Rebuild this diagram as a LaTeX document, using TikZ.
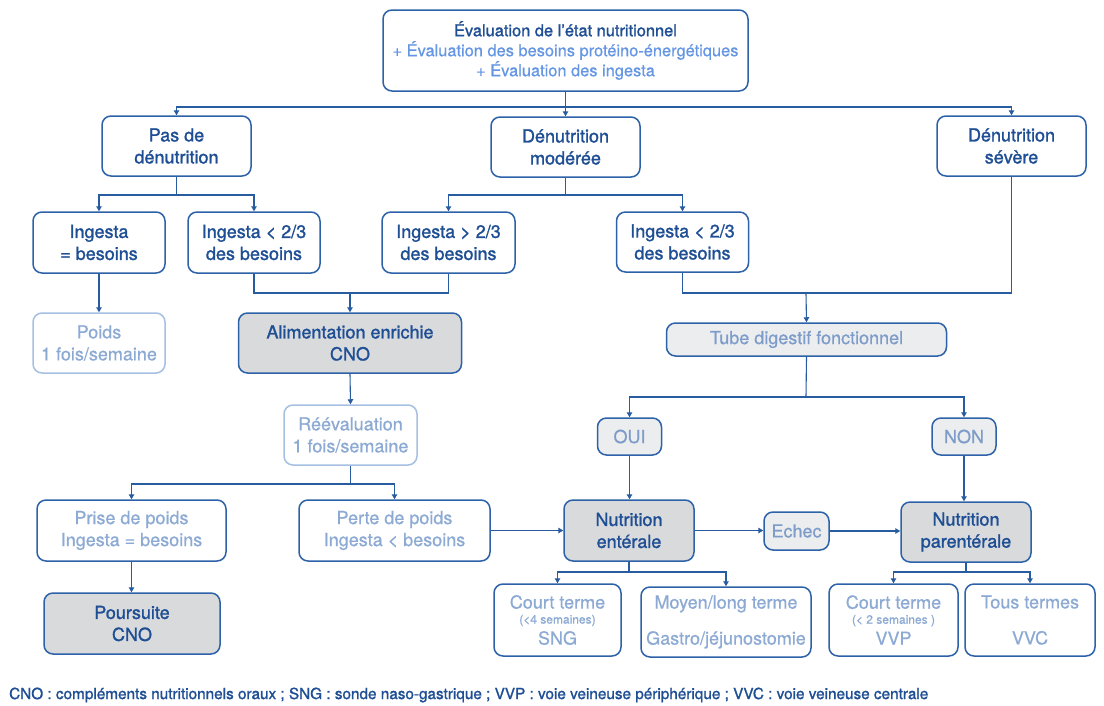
\documentclass[tikz,border=0pt]{standalone}
\usepackage{fontspec}
\setmainfont{TeX Gyre Heros}
\newfontfamily\medf{TeX Gyre Heros}[FakeBold=1.3]
\newfontfamily\regf{TeX Gyre Heros}[FakeBold=0.6]
\usetikzlibrary{arrows.meta}
\definecolor{darkc}{RGB}{30,78,148}
\definecolor{bordc}{RGB}{45,98,168}
\definecolor{linec}{RGB}{40,92,160}
\definecolor{lightc}{RGB}{140,170,212}
\definecolor{lightb}{RGB}{165,192,226}
\definecolor{topl}{RGB}{100,150,228}
\definecolor{grayf}{RGB}{217,218,220}
\definecolor{paleg}{RGB}{236,237,238}
\definecolor{palet}{RGB}{125,156,202}
\tikzset{
  box/.style={draw=bordc, line width=1.5pt, rounded corners=9pt, align=center, inner sep=0pt,
    font={\medf\fontsize{18}{22}\selectfont}, text=darkc},
  grayb/.style={box, fill=grayf},
  lightbox/.style={box, draw=lightb, text=lightc, font={\regf\fontsize{18}{22}\selectfont}},
  softbox/.style={box, text=lightc, font={\regf\fontsize{18}{22}\selectfont}},
  palebox/.style={box, fill=paleg, text=palet, font={\regf\fontsize{18}{22}\selectfont}},
  arr/.style={draw=linec, line width=1.1pt, -{Triangle[length=5pt,width=5.5pt]}},
  ln/.style={draw=linec, line width=1.1pt}
}
\begin{document}
\begin{tikzpicture}[x=1pt,y=-1pt]
\useasboundingbox[fill=white] (0,0) rectangle (1104,705);
% top
\node[box, minimum width=365pt, minimum height=81pt, font={\medf\fontsize{16.4}{20}\selectfont}] (top) at (565.5,50.5)
 {Évaluation de l’état nutritionnel\\{\regf\color{topl}+ Évaluation des besoins protéino-énergétiques}\\{\regf\color{topl}+ Évaluation des ingesta}};
% level 2
\node[box, minimum width=149pt, minimum height=60pt] (pas) at (176.5,146) {Pas de\\dénutrition};
\node[box, minimum width=149pt, minimum height=60pt] (mod) at (565.5,147) {Dénutrition\\modérée};
\node[box, minimum width=149pt, minimum height=60pt] (sev) at (1011.5,146) {Dénutrition\\sévère};
% level 3
\node[box, minimum width=132pt, minimum height=61pt] (ieq) at (99,242.5) {Ingesta\\= besoins};
\node[box, minimum width=132pt, minimum height=61pt] (ilta) at (254,242.5) {Ingesta < 2/3\\des besoins};
\node[box, minimum width=133pt, minimum height=61pt] (igt) at (448.5,242.5) {Ingesta > 2/3\\des besoins};
\node[box, minimum width=132pt, minimum height=60pt] (iltb) at (682.5,242) {Ingesta < 2/3\\des besoins};
% level 4
\node[lightbox, minimum width=132pt, minimum height=60pt] (poids) at (99,343) {Poids\\1 fois/semaine};
\node[grayb, minimum width=223pt, minimum height=60pt] (alim) at (350,343) {Alimentation enrichie\\CNO};
\node[palebox, minimum width=280pt, minimum height=33pt] (tube) at (806.5,339.5) {Tube digestif fonctionnel};
\node[lightbox, minimum width=133pt, minimum height=60pt] (reev) at (350.5,435) {Réévaluation\\1 fois/semaine};
\node[palebox, minimum width=64pt, minimum height=37pt] (oui) at (629.5,436.5) {OUI};
\node[palebox, minimum width=64pt, minimum height=37pt] (non) at (964,436.5) {NON};
% level 5
\node[softbox, minimum width=189pt, minimum height=61pt] (prise) at (131.5,530.5) {Prise de poids\\Ingesta = besoins};
\node[softbox, minimum width=191pt, minimum height=61pt] (perte) at (394.5,530.5) {Perte de poids\\Ingesta < besoins};
\node[grayb, minimum width=130pt, minimum height=61pt] (enter) at (629,530.5) {Nutrition\\entérale};
\node[palebox, minimum width=65pt, minimum height=38pt] (echec) at (796.5,531) {Echec};
\node[grayb, minimum width=130pt, minimum height=60pt] (parent) at (966,532) {Nutrition\\parentérale};
% level 6
\node[grayb, minimum width=176pt, minimum height=61pt] (pours) at (132,623.5) {Poursuite\\CNO};
\node[softbox, minimum width=127pt, minimum height=72pt] (cta) at (557.5,620)
 {Court terme\\[-7pt]{\fontsize{12}{13}\selectfont (<4 semaines)}\\[-1pt]SNG};
\node[softbox, minimum width=170pt, minimum height=70pt] (ml) at (726,622)
 {Moyen/long terme\\[14pt]Gastro/jéjunostomie};
\node[softbox, minimum width=129pt, minimum height=72pt] (ctb) at (893.5,620)
 {Court terme\\[-7pt]{\fontsize{12}{13}\selectfont (< 2 semaines )}\\[-1pt]VVP};
\node[softbox, minimum width=130pt, minimum height=72pt] (tous) at (1030,620)
 {Tous termes\\[14pt]VVC};
% footnote
\node[anchor=west, inner sep=0pt, text=darkc, font={\medf\fontsize{15.3}{18}\selectfont}] (fn) at (9,695)
 {CNO : compléments nutritionnels oraux ; SNG : sonde naso-gastrique ; VVP : voie veineuse périphérique ; VVC : voie veineuse centrale};
% junction coordinates
\coordinate (j1) at (565.5,107);
\coordinate (j2) at (176.5,195);
\coordinate (j3) at (565.5,195);
\coordinate (j4) at (350,293);
\coordinate (j5) at (806,293);
\coordinate (j6) at (806,397);
\coordinate (j7) at (350.5,484);
\coordinate (j8) at (629,572);
\coordinate (j9) at (966,572);
% connectors
\draw[ln] (top.south) -- (j1);
\draw[arr] (j1) -| (pas.north);
\draw[arr] (j1) -- (mod.north);
\draw[arr] (j1) -| (sev.north);
\draw[ln] (pas.south) -- (j2);
\draw[arr] (j2) -| (ieq.north);
\draw[arr] (j2) -| (ilta.north);
\draw[ln] (mod.south) -- (j3);
\draw[arr] (j3) -| (igt.north);
\draw[arr] (j3) -| (iltb.north);
\draw[ln] (ilta.south) |- (j4);
\draw[ln] (igt.south) |- (j4);
\draw[arr] (j4) -- (alim.north);
\draw[arr] (ieq.south) -- (poids.north);
\draw[ln] (iltb.south) |- (j5);
\draw[ln] (sev.south) |- (j5);
\draw[arr] (j5) -- (tube.north);
\draw[ln] (tube.south) -- (j6);
\draw[arr] (j6) -| (oui.north);
\draw[arr] (j6) -| (non.north);
\draw[arr] (alim.south) -- (reev.north);
\draw[ln] (reev.south) -- (j7);
\draw[arr] (j7) -| (prise.north);
\draw[arr] (j7) -| (perte.north);
\draw[arr] (prise.south) -- (prise.south |- pours.north);
\draw[arr] (perte.east) -- (perte.east -| enter.west);
\draw[arr] (oui.south) -- (oui.south |- enter.north);
\draw[arr] (enter.east) -- (enter.east -| echec.west);
\draw[arr] (echec.east) -- (echec.east -| parent.west);
\draw[arr] (non.south) -- (non.south |- parent.north);
\draw[ln] (enter.south) -- (j8);
\draw[arr] (j8) -| (cta.north);
\draw[arr] (j8) -| (ml.north);
\draw[ln] (parent.south) -- (j9);
\draw[arr] (j9) -| (ctb.north);
\draw[arr] (j9) -| (tous.north);
\end{tikzpicture}
\end{document}
